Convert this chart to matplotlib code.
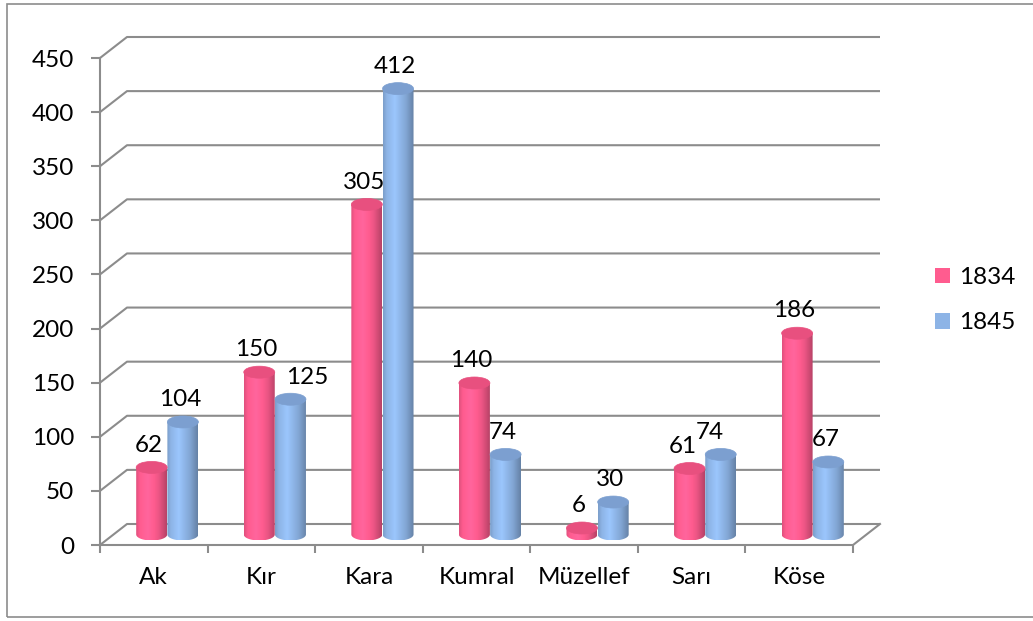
import numpy as np
import matplotlib
matplotlib.use("Agg")
import matplotlib.pyplot as plt
from matplotlib.patches import Ellipse, Polygon, Patch, Rectangle
from matplotlib.colors import to_rgb

# --- data ---
categories = ["Ak", "Kır", "Kara", "Kumral", "Müzellef", "Sarı", "Köse"]
series_names = ["1834", "1845"]
values_1834 = [62, 150, 305, 140, 6, 61, 186]
values_1845 = [104, 125, 412, 74, 30, 74, 67]
y_ticks = [0, 50, 100, 150, 200, 250, 300, 350, 400, 450]

plt.rcParams["font.family"] = ["Lato", "DejaVu Sans"]
FS = 17.5

W, H = 1033, 621
fig = plt.figure(figsize=(W / 100, H / 100), dpi=100)

# axes frame in pixels: front plane x 100..853, y 545 (0) .. 58 (450); back wall offset (+27, -21)
px_left, px_right_front, px_bottom = 100, 853, 545
depth_px = (27, 21)
n = len(categories)
cat_px = (px_right_front - px_left) / n
unit_px = (545 - 58) / 450.0
ddx = depth_px[0] / cat_px
ddy = depth_px[1] / unit_px
ymax = 450 + ddy
xmin, xmax = -0.5, n - 0.5 + ddx
ax_w = (xmax - xmin) * cat_px
ax_h = ymax * unit_px
ax = fig.add_axes([px_left / W, (H - px_bottom) / H, ax_w / W, ax_h / H])

grid_c = "#8c8c8c"
grid_lw = 1.5

# back wall gridlines with the diagonal on the left side wall
for v in y_ticks:
    ax.plot([-0.5, -0.5 + ddx, n - 0.5 + ddx], [v, v + ddy, v + ddy],
            color=grid_c, lw=grid_lw, clip_on=False, zorder=1, solid_capstyle="butt")
# floor front edge and right diagonal
ax.plot([-0.5, n - 0.5, n - 0.5 + ddx], [0, 0, ddy], color=grid_c, lw=grid_lw,
        clip_on=False, zorder=1)
# vertical axis line
ax.plot([-0.5, -0.5], [0, 450], color=grid_c, lw=grid_lw, clip_on=False, zorder=1)


def shade(base_hex, n_steps=64):
    base = np.array(to_rgb(base_hex))
    t = np.linspace(0, 1, n_steps)
    # left a bit darker, highlight around 35%, dark right edge
    f = np.interp(t, [0, 0.12, 0.38, 0.75, 1.0], [0.88, 1.0, 1.1, 0.92, 0.72])
    return np.clip(base[None, :] * f[:, None], 0, 1)[None, :, :]


bar_w = 31 / cat_px
ell_h = 12 / unit_px
base_y = ddy / 2
colors = {"1834": "#ff5c8f", "1845": "#8db4e6"}
top_colors = {"1834": "#e8507f", "1845": "#7c9fd0"}
offsets = {"1834": -0.145, "1845": 0.145}
# label nudges (points) where excel moved labels apart
nudge = {("1845", 1): 12, ("1834", 5): -5, ("1845", 5): -8}

for name, vals in zip(series_names, [values_1834, values_1845]):
    grad = shade(colors[name])
    for i, v in enumerate(vals):
        cx = i + ddx / 2 + offsets[name]
        top = base_y + v
        left, right = cx - bar_w / 2, cx + bar_w / 2
        t = np.linspace(np.pi, 2 * np.pi, 40)
        arc = np.column_stack([cx + bar_w / 2 * np.cos(t), base_y + ell_h / 2 * np.sin(t)])
        verts = np.vstack([[left, top], [left, base_y], arc, [right, base_y], [right, top]])
        body = Polygon(verts, closed=True, facecolor="none", edgecolor="none", zorder=3)
        ax.add_patch(body)
        im = ax.imshow(grad, extent=[left, right, base_y - ell_h / 2, top],
                       aspect="auto", interpolation="bilinear", zorder=3, clip_on=True)
        im.set_clip_path(body)
        ax.add_patch(Ellipse((cx, top), bar_w, ell_h, facecolor=top_colors[name],
                             edgecolor=top_colors[name], lw=0.5, zorder=4))
        dx = nudge.get((name, i), -2)
        ax.annotate(str(v), (cx, top), xytext=(dx, 16), textcoords="offset points",
                    ha="center", va="center", fontsize=FS, zorder=5)

ax.set_xlim(xmin, xmax)
ax.set_ylim(0, ymax)
for s in ax.spines.values():
    s.set_visible(False)

ax.set_yticks(y_ticks)
ax.set_yticklabels([str(v) for v in y_ticks], fontsize=FS)
ax.tick_params(axis="y", length=6.5, width=grid_lw, color=grid_c, pad=12)

ax.set_xticks(np.arange(n + 1) - 0.5)
ax.set_xticklabels([])
ax.tick_params(axis="x", which="major", length=6, width=grid_lw, color=grid_c)
ax.set_xticks(np.arange(n), minor=True)
ax.set_xticklabels(categories, minor=True, fontsize=FS)
ax.tick_params(axis="x", which="minor", length=0, pad=16)

handles = [Patch(facecolor=colors[s], edgecolor="none") for s in series_names]
fig.legend(handles, series_names, loc="upper left", bbox_to_anchor=(935 / W, 1 - 267 / H),
           frameon=False, fontsize=FS, handlelength=0.62, handleheight=0.62,
           handletextpad=0.35, labelspacing=1.0, borderpad=0, borderaxespad=0)

# outer chart border
fig.patches.append(Rectangle((7 / W, (H - 617) / H), 1.1, (617 - 4) / H, transform=fig.transFigure,
                             facecolor="none", edgecolor="#8c8c8c", lw=1.2))

fig.savefig("out.png", dpi=100)
